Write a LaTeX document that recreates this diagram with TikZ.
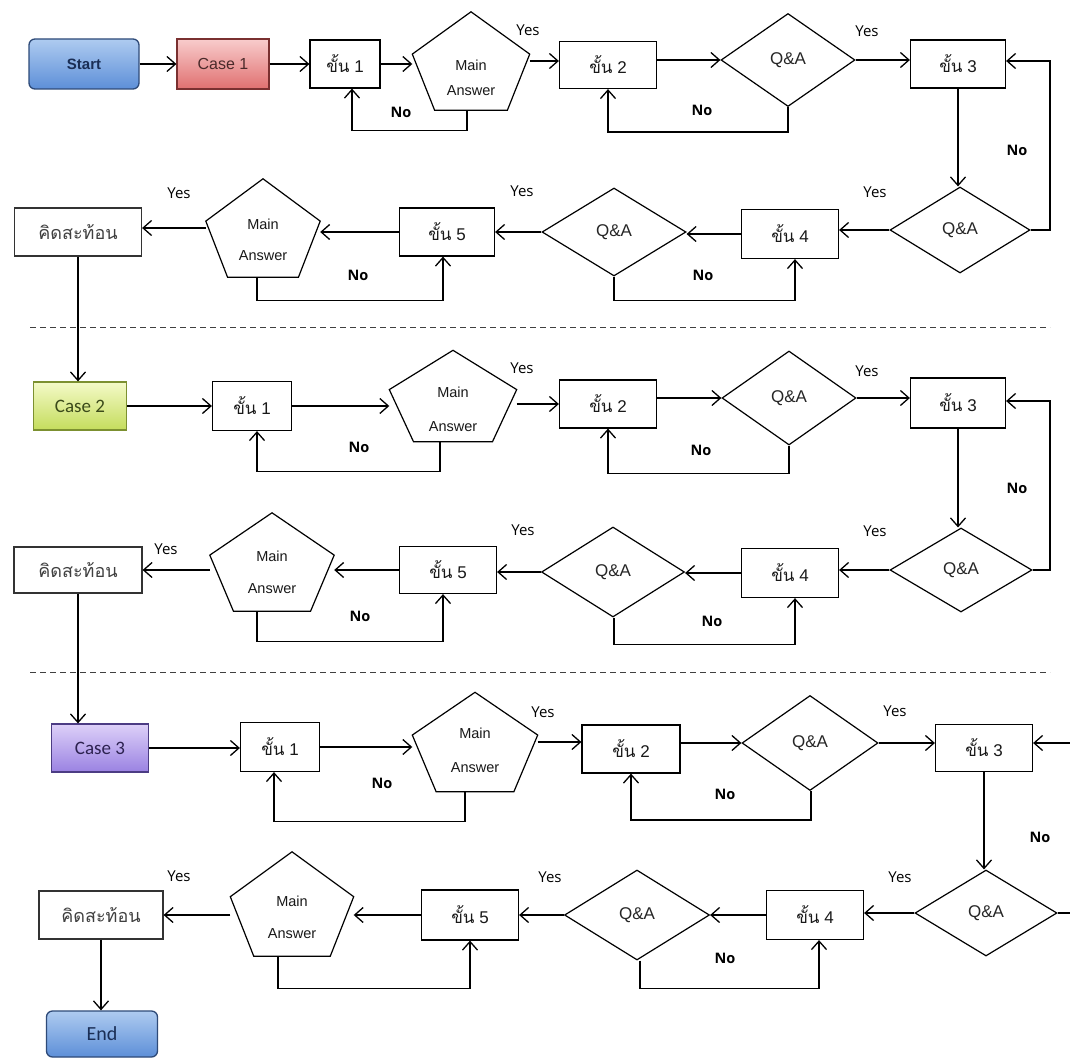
\documentclass[tikz,border=0pt]{standalone}
\usepackage{fontspec}
\setmainfont{Liberation Sans}
\newfontfamily\thaif[Script=Thai]{Loma}
\newfontfamily\labf{Open Sans}
\newfontfamily\calf{Carlito}
\usetikzlibrary{shapes.geometric,arrows.meta,calc}
\definecolor{bluetop}{HTML}{AECBF0}
\definecolor{bluemid}{HTML}{CFE0F7}
\definecolor{bluebot}{HTML}{5D8FD8}
\definecolor{blueline}{HTML}{2E4A78}
\definecolor{bluetext}{HTML}{1A2E55}
\definecolor{redtop}{HTML}{F8CCCC}
\definecolor{redbot}{HTML}{E07070}
\definecolor{redline}{HTML}{7A3030}
\definecolor{redtext}{HTML}{4A2A2A}
\definecolor{greentop}{HTML}{F4FAC8}
\definecolor{greenbot}{HTML}{C4DC5C}
\definecolor{greenline}{HTML}{7C9030}
\definecolor{greentext}{HTML}{3B4A1A}
\definecolor{purptop}{HTML}{DDD0F8}
\definecolor{purpbot}{HTML}{9A82E2}
\definecolor{purpline}{HTML}{4C3C84}
\definecolor{purptext}{HTML}{2D2250}
\newcommand\khan[1]{{\thaif ขั้น}~#1}
\newcommand\pentnode[7]{%
  \node[pentbox, minimum width=#4pt, minimum height=#5pt] (#1) at (#2,#3) {};
  \draw[shapeline] (#1.north) -- ($(#1.north west)!0.43!(#1.south west)$)
    -- ($(#1.south west)!0.19!(#1.south east)$) -- ($(#1.south west)!0.81!(#1.south east)$)
    -- ($(#1.north east)!0.43!(#1.south east)$) -- cycle;
  \node[penttext] (#1m) at (#2,#6) {Main};
  \node[penttext] (#1a) at (#2,#7) {Answer};
}
\begin{document}
\begin{tikzpicture}[x=1pt,y=-1pt,
  shapeline/.style={line width=1.2pt, draw=black},
  conn/.style={line width=1.3pt, draw=black},
  arr/.style={conn, -{Straight Barb[length=8.5pt,width=15pt]}},
  stepbox/.style={draw, line width=1.2pt, inner sep=0pt, minimum height=48pt, text=black!90, font=\fontsize{17}{20}\selectfont},
  qa/.style={diamond, draw, line width=1.2pt, inner sep=0pt, text=black!85, font=\fontsize{17}{20}\selectfont},
  pentbox/.style={draw=none, inner sep=0pt},
  penttext/.style={inner sep=0pt, text=black!90, font=\fontsize{14.5}{17}\selectfont},
  thinkbox/.style={draw=black!80, line width=1.2pt, inner sep=0pt, minimum height=48pt, text=black!75, font={\thaif\fontsize{18}{21}\selectfont}},
  yeslab/.style={inner sep=0pt, font={\labf\fontsize{15}{17}\selectfont}},
  nolab/.style={inner sep=0pt, font={\labf\bfseries\fontsize{14.5}{17}\selectfont}},
  bluebox/.style={rounded corners=6pt, draw=blueline, line width=1.3pt, top color=bluetop, middle color=bluemid, bottom color=bluebot, text=bluetext},
  redbox/.style={draw=redline, line width=1.2pt, top color=redtop, bottom color=redbot, text=redtext, font=\fontsize{16}{19}\selectfont},
  greenbox/.style={draw=greenline, line width=1.2pt, top color=greentop, bottom color=greenbot, text=greentext, font={\calf\fontsize{19}{22}\selectfont}},
  purpbox/.style={draw=purpline, line width=1.2pt, top color=purptop, bottom color=purpbot, text=purptext, font={\calf\fontsize{19}{22}\selectfont}},
  dashline/.style={line width=1pt, draw=black!75, dash pattern=on 6pt off 4pt}
]
\useasboundingbox[fill=white] (0,0) rectangle (1070,1059);

% ================= Section 1 =================
% Row 1
\node[bluebox, minimum width=110pt, minimum height=50pt, font=\bfseries\fontsize{15}{18}\selectfont] (start) at (84,64) {Start};
\node[redbox, minimum width=92pt, minimum height=50pt] (case1) at (223,64) {Case 1};
\node[stepbox, minimum width=70pt] (s1) at (345,64) {\khan{1}};
\pentnode{p1}{471}{61}{117}{98}{65}{91}
\node[stepbox, minimum width=97pt, minimum height=47pt] (s2) at (608,65) {\khan{2}};
\node[qa, minimum width=134pt, minimum height=93pt] (q1) at (788,60) {Q\&A};
\node[stepbox, minimum width=95pt] (s3) at (958,64) {\khan{3}};
\coordinate (r1) at (1050,61);
% Row 2
\node[qa, minimum width=140pt, minimum height=86pt] (q2) at (960,230) {Q\&A};
\node[stepbox, minimum width=97pt, minimum height=49pt] (s4) at (790,234) {\khan{4}};
\node[qa, minimum width=144pt, minimum height=88pt] (q3) at (614,232) {Q\&A};
\node[stepbox, minimum width=95pt] (s5) at (447,232) {\khan{5}};
\pentnode{p2}{263}{228}{114}{98}{224}{256}
\node[thinkbox, minimum width=127pt] (k1) at (78,232) {คิดสะท้อน};

\node[yeslab] (y11) at (528,30) {Yes};
\node[nolab] (n11) at (401,112) {No};
\node[yeslab] (y12) at (867,31) {Yes};
\node[nolab] (n12) at (702,110) {No};
\node[nolab] (n13) at (1017,150) {No};
\node[yeslab] (y21) at (875,192) {Yes};
\node[yeslab] (y22) at (522,191) {Yes};
\node[yeslab] (y23) at (179,193) {Yes};
\node[nolab] (n21) at (358,275) {No};
\node[nolab] (n22) at (703,275) {No};

\draw[arr] (start.east) -- (start.east -| case1.west);
\draw[arr] (case1.east) -- (case1.east -| s1.west);
\draw[arr] (s1.east) -- (s1.east -| p1.west);
\draw[arr] (p1.east) -- (p1.east -| s2.west);
\draw[arr] (q1.west -| s2.east) -- (q1.west);
\draw[arr] (q1.east) -- (q1.east -| s3.west);
\draw[arr] (q2.east) -| (r1) -- (r1 -| s3.east);
\draw[arr] ($(p1.south)+(-4,0)$) -- ++(0,20) -| ($(s1.south)+(7,0)$);
\draw[arr] (q1.south) -- ++(0,25) -| (s2.south);
\draw[arr] (s3.south) -- (s3.south |- q2.north);
\draw[arr] (q2.west) -- (q2.west -| s4.east);
\draw[arr] (s4.west) -- (s4.west -| q3.east);
\draw[arr] (q3.west) -- (q3.west -| s5.east);
\draw[arr] (s5.west) -- (s5.west -| p2.east);
\draw[arr] (p2.west) -- (p2.west -| k1.east);
\draw[arr] (q3.south) -- ++(0,24) -| ($(s4.south)+(5,0)$);
\draw[arr] ($(p2.south)+(-6,0)$) -- ++(0,23) -| ($(s5.south)+(-4,0)$);

\draw[dashline] (30,327) -- (1050,327);

% ================= Section 2 =================
\node[greenbox, minimum width=93pt, minimum height=48pt] (case2) at (80,406) {Case 2};
\node[stepbox, minimum width=79pt, minimum height=49pt] (s1b) at (252,406) {\khan{1}};
\pentnode{p3}{453}{396}{127}{91}{392}{427}
\node[stepbox, minimum width=97pt] (s2b) at (608,404) {\khan{2}};
\node[qa, minimum width=134pt, minimum height=94pt] (q1b) at (789,398) {Q\&A};
\node[stepbox, minimum width=95pt, minimum height=50pt] (s3b) at (958,403) {\khan{3}};
\coordinate (r2) at (1050,401);
\node[qa, minimum width=142pt, minimum height=84pt] (q2b) at (961,570) {Q\&A};
\node[stepbox, minimum width=97pt, minimum height=49pt] (s4b) at (790,573) {\khan{4}};
\node[qa, minimum width=143pt, minimum height=90pt] (q3b) at (613,572) {Q\&A};
\node[stepbox, minimum width=97pt, minimum height=47pt] (s5b) at (448,570) {\khan{5}};
\pentnode{p4}{272}{562}{124}{98}{556}{589}
\node[thinkbox, minimum width=128pt, minimum height=46pt] (k2) at (78,570) {คิดสะท้อน};

\node[yeslab] (y31) at (522,368) {Yes};
\node[nolab] (n31) at (359,447) {No};
\node[yeslab] (y32) at (867,371) {Yes};
\node[nolab] (n32) at (701,450) {No};
\node[nolab] (n33) at (1017,488) {No};
\node[yeslab] (y41) at (875,531) {Yes};
\node[yeslab] (y42) at (523,530) {Yes};
\node[yeslab] (y43) at (166,549) {Yes};
\node[nolab] (n41) at (360,616) {No};
\node[nolab] (n42) at (712,621) {No};

\draw[arr] (k1.south) -- (k1.south |- case2.north);
\draw[arr] (case2.east) -- (case2.east -| s1b.west);
\draw[arr] (s1b.east) -- (s1b.east -| p3.west);
\draw[arr] (s2b.west -| p3.east) -- (s2b.west);
\draw[arr] (q1b.west -| s2b.east) -- (q1b.west);
\draw[arr] (q1b.east) -- (q1b.east -| s3b.west);
\draw[arr] (q2b.east) -| (r2) -- (r2 -| s3b.east);
\draw[arr] ($(p3.south)+(-13,0)$) -- ++(0,30) -| ($(s1b.south)+(5,0)$);
\draw[arr] (q1b.south) -- ++(0,28) -| (s2b.south);
\draw[arr] (s3b.south) -- (s3b.south |- q2b.north);
\draw[arr] (q2b.west) -- (q2b.west -| s4b.east);
\draw[arr] (s4b.west) -- (s4b.west -| q3b.east);
\draw[arr] (q3b.west) -- (q3b.west -| s5b.east);
\draw[arr] (s5b.west) -- (s5b.west -| p4.east);
\draw[arr] (k2.east -| p4.west) -- (k2.east);
\draw[arr] ($(q3b.south)+(1,0)$) -- ++(0,27) -| ($(s4b.south)+(5,0)$);
\draw[arr] ($(p4.south)+(-15,0)$) -- ++(0,30) -| ($(s5b.south)+(-5,0)$);

\draw[dashline] (30,672) -- (1050,672);

% ================= Section 3 =================
\node[purpbox, minimum width=97pt, minimum height=48pt] (case3) at (100,748) {Case 3};
\node[stepbox, minimum width=79pt, minimum height=49pt] (s1c) at (280,747) {\khan{1}};
\pentnode{p5}{475}{742}{125}{99}{733}{768}
\node[stepbox, minimum width=98pt] (s2c) at (631,749) {\khan{2}};
\node[qa, minimum width=136pt, minimum height=95pt] (q1c) at (810,743) {Q\&A};
\node[stepbox, minimum width=97pt, minimum height=47pt] (s3c) at (984,748) {\khan{3}};
\coordinate (r3) at (1070,743);
\node[qa, minimum width=142pt, minimum height=86pt] (q2c) at (986,913) {Q\&A};
\coordinate (r4) at (1070,913);
\node[stepbox, minimum width=97pt, minimum height=49pt] (s4c) at (815,915) {\khan{4}};
\node[qa, minimum width=145pt, minimum height=90pt] (q3c) at (637,915) {Q\&A};
\node[stepbox, minimum width=97pt, minimum height=50pt] (s5c) at (470,915) {\khan{5}};
\pentnode{p6}{292}{904}{123}{104}{901}{934}
\node[thinkbox, minimum width=124pt] (k3) at (101,915) {คิดสะท้อน};
\node[bluebox, minimum width=111pt, minimum height=46pt, font={\calf\fontsize{20}{23}\selectfont}] (end) at (102,1034) {End};

\node[yeslab] (y51) at (543,712) {Yes};
\node[nolab] (n51) at (382,783) {No};
\node[yeslab] (y52) at (895,711) {Yes};
\node[nolab] (n52) at (725,794) {No};
\node[nolab] (n53) at (1040,837) {No};
\node[yeslab] (y61) at (900,877) {Yes};
\node[yeslab] (y62) at (550,877) {Yes};
\node[yeslab] (y63) at (179,876) {Yes};
\node[nolab] (n61) at (725,958) {No};

\draw[arr] (k2.south) -- (k2.south |- case3.north);
\draw[arr] (case3.east) -- (case3.east -| s1c.west);
\draw[arr] (s1c.east) -- (s1c.east -| p5.west);
\draw[arr] (p5.east) -- (p5.east -| s2c.west);
\draw[arr] (q1c.west -| s2c.east) -- (q1c.west);
\draw[arr] (q1c.east) -- (q1c.east -| s3c.west);
\draw[arr] (r3) -- (r3 -| s3c.east);
\draw[arr] ($(p5.south)+(-10,0)$) -- ++(0,30) -| ($(s1c.south)+(-6,0)$);
\draw[arr] ($(q1c.south)+(1,0)$) -- ++(0,29) -| (s2c.south);
\draw[arr] (s3c.south) -- (s3c.south |- q2c.north);
\draw[conn] (q2c.east) -- (r4);
\draw[arr] (q2c.west) -- (q2c.west -| s4c.east);
\draw[arr] (s4c.west) -- (s4c.west -| q3c.east);
\draw[arr] (q3c.west) -- (q3c.west -| s5c.east);
\draw[arr] (s5c.west) -- (s5c.west -| p6.east);
\draw[arr] (k3.east -| p6.west) -- (k3.east);
\draw[arr] ($(q3c.south)+(3,0)$) -- ++(0,28) -| ($(s4c.south)+(4,0)$);
\draw[arr] ($(p6.south)+(-14,0)$) -- ++(0,32) -| (s5c.south);
\draw[arr] (k3.south) -- (k3.south |- end.north);
\end{tikzpicture}
\end{document}
